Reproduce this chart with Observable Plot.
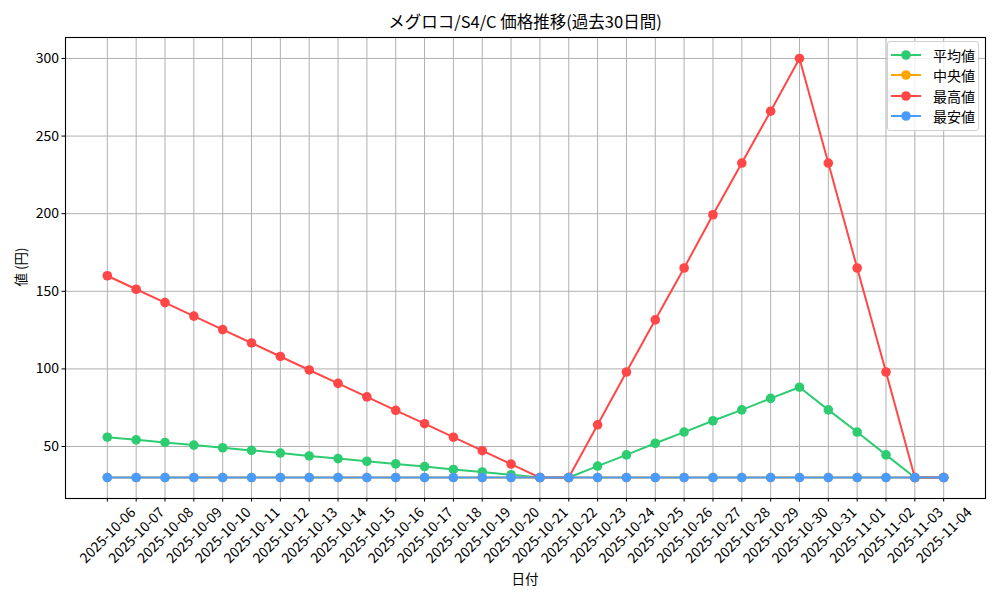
<!DOCTYPE html>
<html>
<head>
<meta charset="utf-8">
<script src="https://cdn.jsdelivr.net/npm/d3@7"></script>
<script src="https://cdn.jsdelivr.net/npm/@observablehq/plot@0.6"></script>
<style>
  body { margin: 0; background: #fff; font-family: "Noto Sans CJK JP", sans-serif; }
  #wrap { position: relative; width: 1000px; height: 600px; }
  #title { height: 18px; padding-top: 12px; font-size: 16.5px; line-height: 18px; text-align: center; color: #000; padding-left: 50px; }
  .lab { position: absolute; font-size: 13.5px; color: #000; white-space: nowrap; }
  #legend { position: absolute; left: 887px; top: 41px; width: 90px; padding: 3px 0 4px 0; border: 1px solid #d0d0d0; border-radius: 3px; background: rgba(255,255,255,0.8); font-size: 14px; }
  .item { display: flex; align-items: center; height: 20.3px; }
  .item svg { margin-left: 3px; margin-right: 12px; }
</style>
</head>
<body>
<div id="wrap">
  <div id="title">メグロコ/S4/C 価格推移(過去30日間)</div>
  <div id="chart"></div>
  <div class="lab" id="xlab" style="left:525px; top:568px; transform: translateX(-50%);">日付</div>
  <div class="lab" id="ylab" style="left:20px; top:267px; transform: translate(-50%,-50%) rotate(-90deg);">値 (円)</div>
  <div id="legend"></div>
</div>
<script>
const dates = ["2025-10-06","2025-10-07","2025-10-08","2025-10-09","2025-10-10","2025-10-11","2025-10-12","2025-10-13","2025-10-14","2025-10-15","2025-10-16","2025-10-17","2025-10-18","2025-10-19","2025-10-20","2025-10-21","2025-10-22","2025-10-23","2025-10-24","2025-10-25","2025-10-26","2025-10-27","2025-10-28","2025-10-29","2025-10-30","2025-10-31","2025-11-01","2025-11-02","2025-11-03","2025-11-04"];
const avgValues = [56, 54.3, 52.6, 50.9, 49.2, 47.5, 45.8, 43.9, 42.2, 40.5, 38.8, 37.1, 35.2, 33.6, 31.8, 30, 30, 37.4, 44.6, 52.1, 59.3, 66.6, 73.6, 81, 88.2, 73.6, 59.3, 44.6, 30, 30];
const medianValues = [30,30,30,30,30,30,30,30,30,30,30,30,30,30,30,30,30,30,30,30,30,30,30,30,30,30,30,30,30,30];
const maxValues = [160, 151.3, 142.7, 134, 125.3, 116.7, 108, 99.3, 90.7, 82, 73.3, 64.7, 56, 47.3, 38.7, 30, 30, 64, 98, 131.6, 165, 199.3, 232.6, 266, 300, 232.6, 165, 98, 30, 30];
const minValues = [30,30,30,30,30,30,30,30,30,30,30,30,30,30,30,30,30,30,30,30,30,30,30,30,30,30,30,30,30,30];
const seriesNames = ["平均値", "中央値", "最高値", "最安値"];
const seriesColors = ["#2ecc71", "#ffa500", "#ff4747", "#4a9bff"];
const yTicks = [50, 100, 150, 200, 250, 300];

const seriesValues = [avgValues, medianValues, maxValues, minValues];
const rows = seriesNames.map((name, i) => dates.map((d, j) => ({date: d, value: seriesValues[i][j], series: name})));

const marks = [
  Plot.gridX(dates, {stroke: "#b0b0b0", strokeOpacity: 1, strokeWidth: 1}),
  Plot.gridY(yTicks, {stroke: "#b0b0b0", strokeOpacity: 1, strokeWidth: 1}),
];
rows.forEach((r, i) => {
  marks.push(Plot.line(r, {x: "date", y: "value", stroke: seriesColors[i], strokeWidth: 2}));
  marks.push(Plot.dot(r, {x: "date", y: "value", fill: seriesColors[i], r: 4.8}));
});
marks.push(Plot.frame({stroke: "#000", strokeWidth: 1.1}));
marks.push(Plot.axisY(yTicks, {tickSize: 3.5, tickPadding: 3, fontSize: 14, label: null, tickFormat: d => d}));
marks.push(Plot.axisX(dates, {tickSize: 3.5, tickPadding: 3, text: null, label: null}));
marks.push(Plot.axisX(dates, {tickSize: 0, tickPadding: 6.5, tickRotate: -45, fontSize: 14, label: null, dx: 26, dy: 5}));

const chart = Plot.plot({
  width: 1000,
  height: 570,
  marginTop: 7,
  marginBottom: 102,
  marginLeft: 65,
  marginRight: 15,
  style: {fontFamily: "'Noto Sans CJK JP', sans-serif", fontSize: "14px", color: "#000", background: "#fff"},
  x: {type: "point", domain: dates, padding: 1.45, round: false},
  y: {domain: [16.5, 313.5]},
  marks
});
document.getElementById("chart").appendChild(chart);

const legend = document.getElementById("legend");
seriesNames.forEach((name, i) => {
  const item = document.createElement("div");
  item.className = "item";
  item.innerHTML = `<svg width="30" height="12"><line x1="0" y1="6" x2="30" y2="6" stroke="${seriesColors[i]}" stroke-width="2"/><circle cx="15" cy="6" r="4.8" fill="${seriesColors[i]}"/></svg><span>${name}</span>`;
  legend.appendChild(item);
});
</script>
</body>
</html>
